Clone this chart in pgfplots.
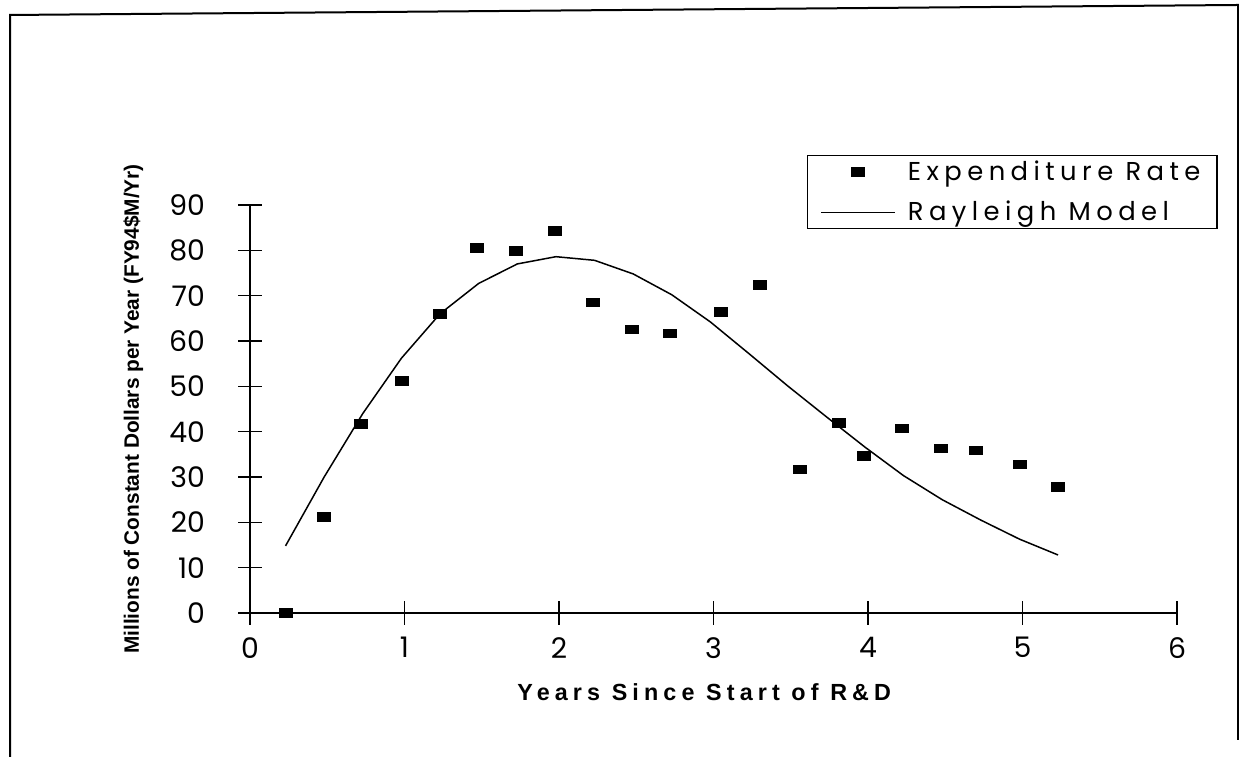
\documentclass[border=0pt]{standalone}
\usepackage{fontspec}
\usepackage{pgfplots}
\pgfplotsset{compat=1.18}
\setmainfont{Poppins}
\newfontfamily\legfont[LetterSpace=21]{Poppins}
\newfontfamily\ylabfont{Liberation Sans}
\newfontfamily\xlabfont[LetterSpace=22]{Liberation Sans}

\pgfplotsset{
    legmark/.style={legend image code/.code={
        \path[draw=none] (0pt,0pt) -- (50pt,0pt);
        \draw[##1] plot coordinates {(22pt,0pt)};}},
    legline/.style={legend image code/.code={
        \path[draw=none] (0pt,0pt) -- (50pt,0pt);
        \draw[##1] (0pt,0pt) -- (44pt,0pt);}},
}

\begin{document}
\begin{tikzpicture}
% page is 1239 x 757 px, 1 px = 0.6pt
\useasboundingbox (0,0) rectangle (743.4pt,454.2pt);
% scanned page frame
\draw[line width=1.2pt] (6pt,0pt) -- (6pt,445.2pt) -- (742.8pt,451.2pt) -- (742.8pt,10.2pt);
\begin{axis}[
    at={(150pt,86.4pt)},
    anchor=south west,
    scale only axis,
    width=556.2pt,
    height=244.8pt,
    xmin=0, xmax=6,
    ymin=0, ymax=90,
    xtick={0,1,...,6},
    ytick={0,10,...,90},
    axis x line=bottom,
    axis y line=left,
    axis line style={-, line width=0.9pt},
    tick align=center,
    major tick length=14pt,
    tick style={line width=0.8pt, black},
    tick label style={font=\fontsize{17}{20}\selectfont, /pgf/number format/assume math mode=true},
    yticklabel style={anchor=east, xshift=-16.5pt},
    xticklabel style={yshift=-4pt},
    xlabel={\xlabfont\bfseries\fontsize{14}{16}\selectfont Years Since Start of R\&D},
    xlabel style={at={(axis description cs:0.49,-0.195)}, anchor=center},
    clip=false,
    legend cell align=left,
    legend style={
        at={(1.044,1.1225)}, anchor=north east,
        draw=black, line width=0.8pt,
        font=\legfont\fontsize{15.5}{18}\selectfont,
        inner xsep=8pt, inner ysep=1pt,
        row sep=7pt,
    },
]
\addplot[only marks, mark=square*, mark size=2.6pt, mark options={xscale=1.5, black}, legmark]
    coordinates {
    (0.23,0) (0.48,21.2) (0.72,41.7) (0.98,51.2) (1.23,66.0)
    (1.47,80.5) (1.72,79.9) (1.97,84.3) (2.22,68.5) (2.47,62.6)
    (2.72,61.7) (3.05,66.4) (3.30,72.4) (3.56,31.7) (3.81,41.9)
    (3.97,34.6) (4.22,40.7) (4.47,36.3) (4.70,35.9) (4.98,32.8)
    (5.23,27.8)
    };
\addlegendentry{Expenditure Rate}
\addplot[black, line width=0.9pt, mark=none, legline]
    coordinates {
    (0.23,14.8) (0.48,30.0) (0.73,44.0) (0.98,56.2) (1.23,66.0)
    (1.48,72.7) (1.73,77.0) (1.98,78.6) (2.23,77.8) (2.48,74.8)
    (2.73,70.2) (2.98,64.2) (3.23,57.2) (3.48,50.1) (3.73,43.3)
    (3.98,36.6) (4.23,30.3) (4.48,25.0) (4.73,20.5) (4.98,16.3)
    (5.23,12.8)
    };
\addlegendentry{Rayleigh Model}
% y axis title
\node[rotate=90, anchor=center, font=\ylabfont\bfseries\fontsize{12.5}{14}\selectfont]
    at (rel axis cs:-0.126,0.5) {Millions of Constant Dollars per Year (FY94\$M/Yr)};
\end{axis}
\end{tikzpicture}
\end{document}
